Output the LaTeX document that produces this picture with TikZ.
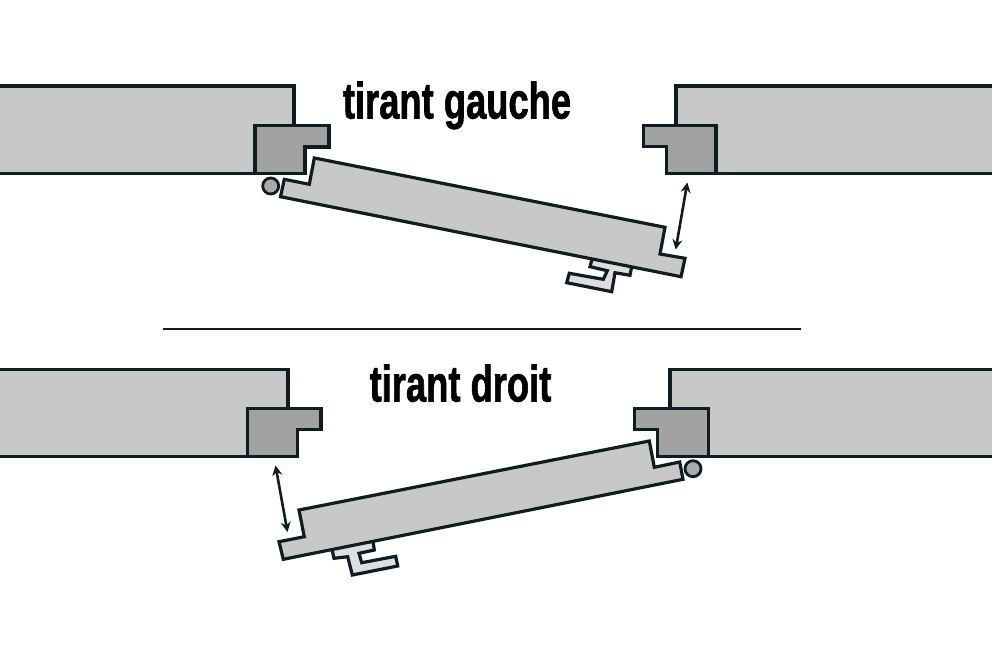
\documentclass[tikz,border=0pt]{standalone}
\usepackage{fontspec}
\setmainfont{Liberation Sans}
\newfontfamily\titlefont[FakeBold=1.5]{Liberation Sans Bold}
\usetikzlibrary{arrows.meta}
\definecolor{ink}{HTML}{0F1C22}
\definecolor{wallfill}{HTML}{C8C8C8}
\definecolor{blockfill}{HTML}{A2A2A2}
\definecolor{tfill}{HTML}{DEDEDE}
\definecolor{pinfill}{HTML}{ABABAB}
\tikzset{
  outline/.style={draw=ink,line width=3.2pt,line join=miter},
  wallshape/.style={outline,fill=wallfill},
  blockshape/.style={outline,fill=blockfill},
  panelshape/.style={outline,fill=wallfill},
  tshape/.style={outline,fill=tfill},
  pinshape/.style={draw=ink,line width=2.8pt,fill=pinfill},
  gap/.style={draw=ink,line width=2.6pt,{Stealth[length=10pt,width=10pt]}-{Stealth[length=10pt,width=10pt]}},
  title/.style={inner sep=0pt,anchor=base,text=black,font=\fontsize{51}{51}\selectfont\titlefont,xscale=0.713,transform shape}
}
\begin{document}
\begin{tikzpicture}[x=1pt,y=-1pt]
\useasboundingbox (0,0) rectangle (992,661);
\clip (0,0) rectangle (992,661);
\fill[white] (0,0) rectangle (992,661);
% top left
\draw[wallshape] (-6,86) -- (294,86) -- (294,173.5) -- (-6,173.5) -- cycle;
\draw[blockshape] (255,125.5) -- (329,125.5) -- (329,147) -- (305,147) -- (305,173.5) -- (255,173.5) -- cycle;
\draw[tshape] (592.3,258) -- (590,266.7) -- (607.3,270.7) -- (603.3,279.3) -- (569.3,273.3) -- (566.7,282.7) -- (611.7,291.7) -- (615,272.7) -- (630,275.3) -- (632,265) -- cycle;
\draw[panelshape] (280.5,196.7) -- (284.3,179.3) -- (309.3,184.3) -- (314.3,158) -- (665,227.3) -- (660,254) -- (685,258.3) -- (681,276.7) -- cycle;
\draw[pinshape] (270.7,186) circle (8pt);
% top right
\draw[wallshape] (998,86) -- (676,86) -- (676,173.5) -- (998,173.5) -- cycle;
\draw[blockshape] (716,125.5) -- (643.3,125.5) -- (643.3,146.5) -- (666.7,146.5) -- (666.7,173.5) -- (716,173.5) -- cycle;
\coordinate (a1) at (687.3,182.5);
\coordinate (a2) at (675.7,249.5);
\draw[gap] (a1) -- (a2);
% separator
\coordinate (s1) at (163,329);
\coordinate (s2) at (801,329);
\draw[draw=ink,line width=2pt] (s1) -- (s2);
% bottom left
\draw[wallshape] (-6,369.5) -- (288,369.5) -- (288,456.5) -- (-6,456.5) -- cycle;
\draw[blockshape] (247.7,408.3) -- (321,408.3) -- (321,429.5) -- (297.7,429.5) -- (297.7,456.5) -- (247.7,456.5) -- cycle;
\coordinate (b1) at (275.5,465.5);
\coordinate (b2) at (287.5,532);
\draw[gap] (b1) -- (b2);
\draw[tshape] (373,541) -- (374.3,550) -- (359,553.3) -- (361.7,562.7) -- (395.7,556.3) -- (397.7,566) -- (352.3,575) -- (347.7,556.7) -- (334,558.3) -- (331.7,548) -- cycle;
\draw[panelshape] (279,541.7) -- (283.3,559.3) -- (683,479.3) -- (679.7,462) -- (654.3,467.3) -- (649.3,441) -- (299,510) -- (304.3,536.7) -- cycle;
% bottom right
\draw[wallshape] (998,369.5) -- (670,369.5) -- (670,456.5) -- (998,456.5) -- cycle;
\draw[blockshape] (708.3,408.3) -- (634.3,408.3) -- (634.3,429.5) -- (657.7,429.5) -- (657.7,456.5) -- (708.3,456.5) -- cycle;
\draw[pinshape] (693,468.7) circle (8pt);
% titles
\node[title] (tg) at (457,118.5) {tirant gauche};
\node[title] (td) at (460.5,401.5) {tirant droit};
\end{tikzpicture}
\end{document}
